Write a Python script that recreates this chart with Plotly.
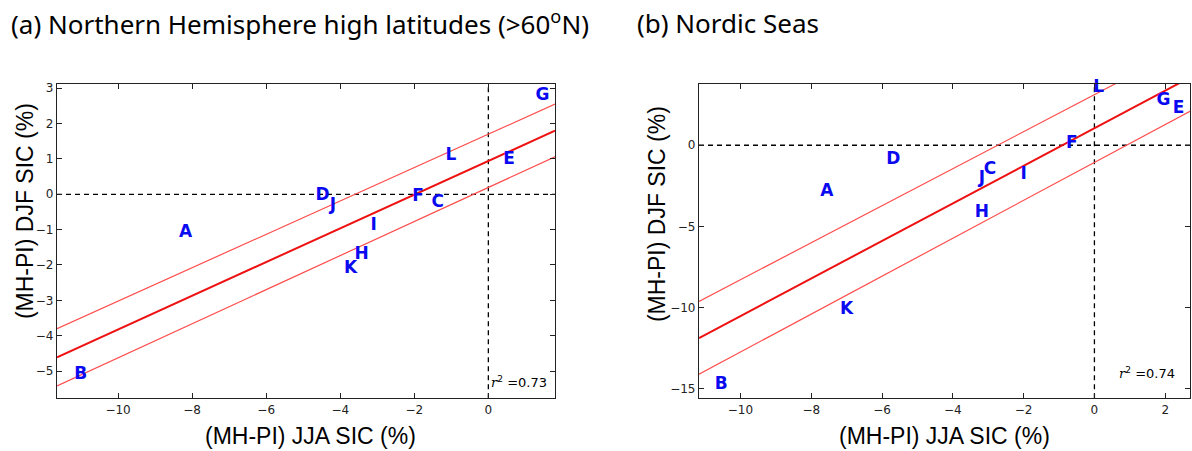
import plotly.graph_objects as go

# ---------------- data ----------------
models = ["A", "B", "C", "D", "E", "F", "G", "H", "I", "J", "K", "L"]

# (a) Northern Hemisphere high latitudes
nh_jja = [-8.18, -11.01, -1.37, -4.48, 0.56, -1.90, 1.46, -3.42, -3.10, -4.20, -3.72, -1.01]
nh_djf = [-1.09, -5.11, -0.24, -0.03, 0.97, -0.08, 2.80, -1.70, -0.88, -0.32, -2.10, 1.09]
nh_fit_x = [-11.65, 1.8]
nh_fit_y = [-4.61, 1.80]
nh_upper_y = [-3.80, 2.55]
nh_lower_y = [-5.42, 1.06]
nh_r2 = "0.73"

# (b) Nordic Seas
ns_jja = [-7.56, -10.54, -2.95, -5.68, 2.38, -0.64, 1.95, -3.18, -2.00, -3.18, -7.00, 0.12]
ns_djf = [-2.85, -14.75, -1.52, -0.92, 2.27, 0.10, 2.77, -4.14, -1.82, -2.09, -10.14, 3.55]
ns_fit_x = [-11.17, 2.7]
ns_fit_y = [-11.89, 4.18]
ns_upper_x = [-11.17, 2.7]
ns_upper_y = [-9.63, 6.20]
ns_lower_y = [-14.12, 2.10]
ns_r2 = "0.74"

nh_xticks = [-10, -8, -6, -4, -2, 0]
nh_yticks = [3, 2, 1, 0, -1, -2, -3, -4, -5]
ns_xticks = [-10, -8, -6, -4, -2, 0, 2]
ns_yticks = [0, -5, -10, -15]

# ---------------- figure ----------------
W, H = 1192, 451
fig = go.Figure()

BLUE = "#0a0af0"
RED_C = "#ee1111"
RED_B = "#ff4d4d"
TICKFONT = dict(family="DejaVu Sans", size=12, color="#222")
LETTERFONT = dict(family="DejaVu Sans", size=17, color=BLUE)


def add_panel(xa, ya, fx, fy, uy, ly, ux, px, py):
    fig.add_trace(go.Scatter(x=ux, y=uy, mode="lines", line=dict(color=RED_B, width=1.2),
                             xaxis=xa, yaxis=ya, hoverinfo="skip", showlegend=False))
    fig.add_trace(go.Scatter(x=fx, y=ly, mode="lines", line=dict(color=RED_B, width=1.2),
                             xaxis=xa, yaxis=ya, hoverinfo="skip", showlegend=False))
    fig.add_trace(go.Scatter(x=fx, y=fy, mode="lines", line=dict(color=RED_C, width=2),
                             xaxis=xa, yaxis=ya, hoverinfo="skip", showlegend=False))
    fig.add_trace(go.Scatter(x=px, y=py, mode="text", text=["<b>%s</b>" % m for m in models],
                             textposition="middle center", textfont=LETTERFONT,
                             cliponaxis=False, xaxis=xa, yaxis=ya, showlegend=False))


add_panel("x", "y", nh_fit_x, nh_fit_y, nh_upper_y, nh_lower_y, nh_fit_x, nh_jja, nh_djf)
add_panel("x2", "y2", ns_fit_x, ns_fit_y, ns_upper_y, ns_lower_y, ns_upper_x, ns_jja, ns_djf)

for xr, yr in (("x", "y"), ("x2", "y2")):
    fig.add_shape(type="line", xref=xr + " domain", yref=yr, x0=0, x1=1, y0=0, y1=0,
                  line=dict(color="black", width=1.3, dash="5px,4px"), layer="below")
    fig.add_shape(type="line", xref=xr, yref=yr + " domain", x0=0, x1=0, y0=0, y1=1,
                  line=dict(color="black", width=1.3, dash="5px,4px"), layer="below")


def px2paper_x(p):
    return p / W


def px2paper_y(p):
    return 1 - p / H


TOP, BOT = 82, 398
axis_common = dict(showgrid=False, zeroline=False, showline=True, linecolor="#222",
                   linewidth=1.2, mirror="ticks", ticks="inside", ticklen=5,
                   tickcolor="#222", tickwidth=1, tickfont=TICKFONT)

fig.update_layout(
    width=W, height=H, margin=dict(l=0, r=0, t=0, b=0),
    paper_bgcolor="white", plot_bgcolor="white", showlegend=False,
    xaxis=dict(domain=[px2paper_x(57), px2paper_x(555)], range=[-11.65, 1.8],
               tickvals=nh_xticks, anchor="y", **axis_common),
    yaxis=dict(domain=[px2paper_y(BOT), px2paper_y(TOP)], range=[-5.77, 3.13],
               tickvals=nh_yticks, anchor="x", **axis_common),
    xaxis2=dict(domain=[px2paper_x(699), px2paper_x(1190)], range=[-11.17, 2.7],
                tickvals=ns_xticks, anchor="y2", **axis_common),
    yaxis2=dict(domain=[px2paper_y(BOT), px2paper_y(TOP)], range=[-15.6, 3.8],
                tickvals=ns_yticks, anchor="x2", **axis_common),
)

TITLEFONT = dict(family="Noto Sans", size=26, color="black")
AXFONT = dict(family="Liberation Sans", size=23, color="black")
R2FONT = dict(family="DejaVu Sans", size=13, color="black")

ann = [
    dict(text="(a) Northern Hemisphere high latitudes (>60<sup>o</sup>N)", x=px2paper_x(9),
         y=px2paper_y(21), xanchor="left", yanchor="middle", font=TITLEFONT),
    dict(text="(b) Nordic Seas", x=px2paper_x(635), y=px2paper_y(21), xanchor="left",
         yanchor="middle", font=TITLEFONT),
    dict(text="(MH-PI) DJF SIC (%)", x=px2paper_x(25), y=px2paper_y(210), textangle=-90,
         xanchor="center", yanchor="middle", font=AXFONT),
    dict(text="(MH-PI) DJF SIC (%)", x=px2paper_x(657), y=px2paper_y(213), textangle=-90,
         xanchor="center", yanchor="middle", font=AXFONT),
    dict(text="(MH-PI) JJA SIC (%)", x=px2paper_x(310), y=px2paper_y(436), xanchor="center",
         yanchor="middle", font=AXFONT),
    dict(text="(MH-PI) JJA SIC (%)", x=px2paper_x(944), y=px2paper_y(436), xanchor="center",
         yanchor="middle", font=AXFONT),
]
for a in ann:
    a.update(xref="paper", yref="paper", showarrow=False)

R_TXT = "<span style='font-family:DejaVu Serif'><i>r</i></span><sup>2</sup> ="
ann.append(dict(text=R_TXT + nh_r2, xref="x", yref="y", x=0.02, y=-5.32, xanchor="left",
                yanchor="middle", showarrow=False, font=R2FONT))
ann.append(dict(text=R_TXT + ns_r2, xref="x2", yref="y2", x=0.65, y=-14.06, xanchor="left",
                yanchor="middle", showarrow=False, font=R2FONT))

fig.update_layout(annotations=ann)
fig.write_html("out.html", config={"displayModeBar": False},
               post_script="document.body.style.margin='0';document.body.style.overflow='hidden';")
